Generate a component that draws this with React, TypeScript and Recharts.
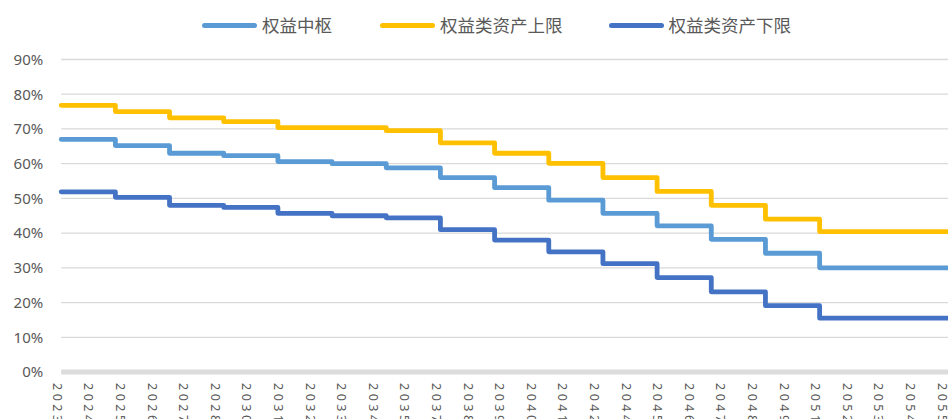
import { LineChart, Line, XAxis, YAxis, CartesianGrid } from 'recharts';

// 每两年调整一次（起始年份）
const periodYears = [2023, 2025, 2027, 2029, 2031, 2033, 2035, 2037, 2039, 2041, 2043, 2045, 2047, 2049, 2051];
const endYear = 2056.33;

const centerValues = [0.67, 0.652, 0.63, 0.623, 0.606, 0.6, 0.588, 0.56, 0.531, 0.495, 0.457, 0.421, 0.382, 0.342, 0.3];
const upperValues = [0.768, 0.75, 0.732, 0.721, 0.704, 0.704, 0.695, 0.66, 0.63, 0.601, 0.56, 0.52, 0.48, 0.44, 0.404];
const lowerValues = [0.519, 0.503, 0.48, 0.474, 0.457, 0.45, 0.444, 0.41, 0.38, 0.346, 0.312, 0.272, 0.231, 0.191, 0.155];

// x轴标签（每14个月一个）
const tickLabels = [
  '2023', '2024', '2025', '2026', '2027', '2028', '2030', '2031', '2032', '2033',
  '2034', '2035', '2037', '2038', '2039', '2040', '2041', '2042', '2044', '2045',
  '2046', '2047', '2048', '2049', '2051', '2052', '2053', '2054', '2055',
];
const yTicks = [0, 0.1, 0.2, 0.3, 0.4, 0.5, 0.6, 0.7, 0.8, 0.9];

const series = [
  { key: 'center', name: '权益中枢', color: '#5B9BD5' },
  { key: 'upper', name: '权益类资产上限', color: '#FFC000' },
  { key: 'lower', name: '权益类资产下限', color: '#4472C4' },
];

const rows = periodYears.map((year, i) => ({
  year,
  center: centerValues[i],
  upper: upperValues[i],
  lower: lowerValues[i],
}));
const last = periodYears.length - 1;
const data = [
  ...rows,
  { year: endYear, center: centerValues[last], upper: upperValues[last], lower: lowerValues[last] },
];

const tickValues = tickLabels.map((_, i) => 2023 + (i * 14) / 12);

const XTick = (props: any) => {
  const { x, y, index } = props;
  return (
    <text
      transform={`translate(${x - 4},${y}) rotate(90)`}
      textAnchor="start"
      dominantBaseline="central"
      fontSize={12.5}
      letterSpacing={3.5}
      fill="#595959"
      fontFamily="'Noto Sans', sans-serif"
    >
      {tickLabels[index]}
    </text>
  );
};

const LegendRow = () => (
  <div
    style={{
      position: 'absolute',
      top: 13,
      left: 202,
      display: 'flex',
      alignItems: 'center',
      height: 24,
      fontFamily: "'Noto Sans CJK SC', sans-serif",
      fontSize: 17.5,
      color: '#595959',
      whiteSpace: 'nowrap',
    }}
  >
    {series.map((s, i) => (
      <div key={s.key} style={{ display: 'flex', alignItems: 'center', marginRight: i === 0 ? 48 : 46 }}>
        <span
          style={{
            display: 'inline-block',
            width: 55,
            height: 5,
            borderRadius: 3,
            background: s.color,
            marginRight: 5,
          }}
        />
        <span style={{ lineHeight: '24px' }}>{s.name}</span>
      </div>
    ))}
  </div>
);

export default function App() {
  return (
    <div style={{ position: 'relative', width: 948, height: 419, overflow: 'hidden', background: '#fff' }}>
      <style>{'body{margin:0}'}</style>
      <LineChart
        width={970}
        height={440}
        data={data}
        margin={{ top: 59.5, right: 6, left: 0, bottom: 0 }}
      >
        <CartesianGrid vertical={false} stroke="#D9D9D9" strokeWidth={1.3} />
        <XAxis
          type="number"
          dataKey="year"
          domain={[2023, endYear]}
          ticks={tickValues}
          interval={0}
          tick={<XTick />}
          tickLine={false}
          tickSize={0}
          tickMargin={11}
          axisLine={{ stroke: '#DCDCDC', strokeWidth: 5 }}
          height={68}
        />
        <YAxis
          type="number"
          domain={[0, 0.9]}
          ticks={yTicks}
          interval={0}
          width={61.2}
          axisLine={false}
          tickLine={false}
          tickSize={0}
          tickMargin={18}
          tickFormatter={(v: number) => `${Math.round(v * 100)}%`}
          tick={{ fill: '#595959', fontSize: 15, fontFamily: "'Noto Sans', sans-serif" }}
        />
        {series.map((s) => (
          <Line
            key={s.key}
            type="stepAfter"
            dataKey={s.key}
            name={s.name}
            stroke={s.color}
            strokeWidth={4.8}
            strokeLinejoin="round"
            strokeLinecap="round"
            dot={false}
            activeDot={false}
            isAnimationActive={false}
          />
        ))}
      </LineChart>
      <LegendRow />
    </div>
  );
}
